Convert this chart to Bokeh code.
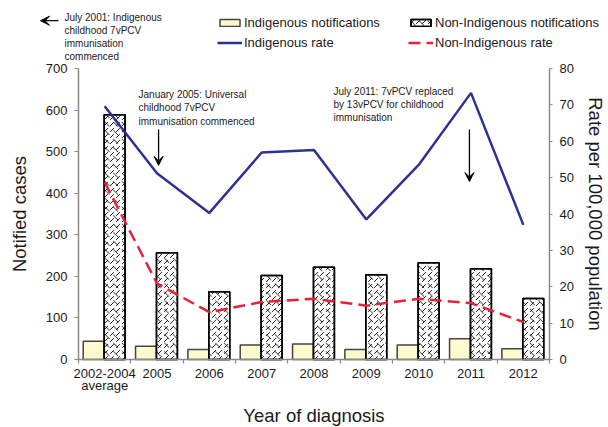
from bokeh.plotting import figure
from bokeh.models import (Range1d, LinearAxis, FixedTicker, Legend, LegendItem, Label, Arrow,
                          VeeHead, ColumnDataSource)
from bokeh.transform import dodge
from bokeh.embed import file_html
from bokeh.resources import INLINE

categories = ["2002-2004\naverage", "2005", "2006", "2007", "2008", "2009", "2010", "2011", "2012"]
indigenous_notifications = [44, 32, 24, 35, 37, 24, 35, 50, 26]
non_indigenous_notifications = [589, 257, 163, 202, 222, 204, 233, 218, 147]
indigenous_rate = [69.6, 51.2, 40.3, 56.9, 57.6, 38.5, 53.5, 73.3, 37.0]
non_indigenous_rate = [48.7, 20.9, 13.0, 15.8, 16.7, 14.8, 16.7, 15.5, 10.3]
left_ticks = [0, 100, 200, 300, 400, 500, 600, 700]
right_ticks = [0, 10, 20, 30, 40, 50, 60, 70, 80]

FONT = "Liberation Sans"
TXT = "#1a1a1a"
AX = "#8a8a8a"
YELLOW = "#FFFACD"
BLUE = "#2E3192"
RED = "#E8203A"

W, H = 608, 427
# frame geometry (pixels): plot area from x=78..549, y=68..359
FX0, FX1, FY0, FY1 = 78.0, 549.0, 68.0, 359.0
n = len(categories)
px_x = (FX1 - FX0) / n
px_y = (FY1 - FY0) / 700.0
px_r = (FY1 - FY0) / 80.0

centers = [i + 0.5 for i in range(n)]
bounds = [i for i in range(n + 1)]

src = ColumnDataSource(dict(x=centers, ind=indigenous_notifications, non=non_indigenous_notifications,
                            ir=indigenous_rate, nr=non_indigenous_rate))

p = figure(width=W, height=H, output_backend="svg", toolbar_location=None,
           x_range=Range1d(-FX0 / px_x, n + (W - FX1) / px_x),
           y_range=Range1d(-(H - FY1) / px_y, FY1 / px_y),
           min_border_left=0, min_border_right=0, min_border_top=0, min_border_bottom=0)
p.extra_y_ranges = {"rate": Range1d(-(H - FY1) / px_r, FY1 / px_r)}
p.outline_line_color = None
p.xgrid.visible = False
p.ygrid.visible = False


def style_axis(a, label, tick_out, standoff, label_standoff):
    a.axis_line_color = AX
    a.axis_line_width = 1.5
    a.major_tick_line_color = AX
    a.major_tick_line_width = 1.2
    a.major_tick_out = tick_out
    a.major_tick_in = 0
    a.minor_tick_line_color = None
    a.major_label_text_font = FONT
    a.major_label_text_font_size = "13px"
    a.major_label_text_color = TXT
    a.major_label_standoff = standoff
    a.axis_label = label
    a.axis_label_text_font = FONT
    a.axis_label_text_font_style = "normal"
    a.axis_label_text_font_size = "18.5px"
    a.axis_label_text_color = TXT
    a.axis_label_standoff = label_standoff


xa = p.xaxis[0]
style_axis(xa, "Year of diagnosis", 0, 2, 9)
xa.ticker = FixedTicker(ticks=centers, minor_ticks=bounds)
xa.major_label_overrides = {c: lab for c, lab in zip(centers, categories)}
xa.major_label_text_line_height = 0.8
xa.major_tick_line_color = None
xa.minor_tick_line_color = AX
xa.minor_tick_line_width = 1.2
xa.minor_tick_out = 4
xa.minor_tick_in = 0
xa.bounds = (0, n)
xa.fixed_location = 0

ya = p.yaxis[0]
style_axis(ya, "Notified cases", 4, 7, 13)
ya.ticker = FixedTicker(ticks=left_ticks)
ya.bounds = (0, 700)
ya.fixed_location = 0

ra = LinearAxis(y_range_name="rate", ticker=FixedTicker(ticks=right_ticks))
style_axis(ra, "Rate per 100,000 population", 3, 7, 8)
ra.bounds = (0, 80)
ra.fixed_location = n
p.add_layout(ra, "right")

r_ind = p.vbar(x=dodge("x", -0.21), top="ind", width=0.40, source=src,
               fill_color=YELLOW, line_color="#444444", line_width=1.5)
r_non = p.vbar(x=dodge("x", 0.19), top="non", width=0.40, source=src,
               fill_color="white", line_color="black", line_width=1.5,
               hatch_pattern=",", hatch_scale=6, hatch_weight=0.9, hatch_color="black")
r_non2 = p.vbar(x=dodge("x", 0.19), top="non", width=0.40, source=src,
                fill_color=None, line_color="black", line_width=1.5,
                hatch_pattern="`", hatch_scale=8.5, hatch_weight=0.9, hatch_color="black")

l_ind = p.line("x", "ir", source=src, y_range_name="rate", line_color=BLUE, line_width=2.5)
l_non = p.line("x", "nr", source=src, y_range_name="rate", line_color=RED, line_width=2.5,
               line_dash="12 6")


def mk_legend(items, x):
    lg = Legend(items=items, location=(x, H - 52), orientation="vertical",
                padding=0, margin=0, spacing=0, border_line_color=None,
                background_fill_alpha=0, glyph_width=25, glyph_height=9,
                label_standoff=2, label_height=20,
                label_text_font=FONT, label_text_font_size="13px", label_text_color=TXT)
    p.add_layout(lg, "center")


mk_legend([LegendItem(label="Indigenous notifications", renderers=[r_ind]),
           LegendItem(label="Indigenous rate", renderers=[l_ind])], 217)
mk_legend([LegendItem(label="Non-Indigenous notifications", renderers=[r_non, r_non2]),
           LegendItem(label="Non-Indigenous rate", renderers=[l_non])], 408)


def note(text, x, y):
    p.add_layout(Label(x=x, y=y, text=text, text_font=FONT, text_font_size="10px",
                       text_color=TXT, text_align="left", text_baseline="top",
                       text_line_height=1.2))


def arrow(x0, y0, x1, y1):
    p.add_layout(Arrow(x_start=x0, y_start=y0, x_end=x1, y_end=y1, line_color="black",
                       line_width=1.3,
                       end=VeeHead(size=9, fill_color="black", line_color="black", line_width=1)))


note("July 2001: Indigenous\nchildhood 7vPCV\nimmunisation\ncommenced", -0.2675, 837)
note("January 2005: Universal\nchildhood 7vPCV\nimmunisation commenced", 1.147, 650)
note("July 2011: 7vPCV replaced\nby 13vPCV  for childhood\nimmunisation", 4.873, 659)
arrow(-0.382, 815, -0.726, 815)
arrow(1.53, 553, 1.53, 467)
arrow(7.47, 553, 7.47, 428)

open("out.html", "w").write(file_html(p, INLINE))
